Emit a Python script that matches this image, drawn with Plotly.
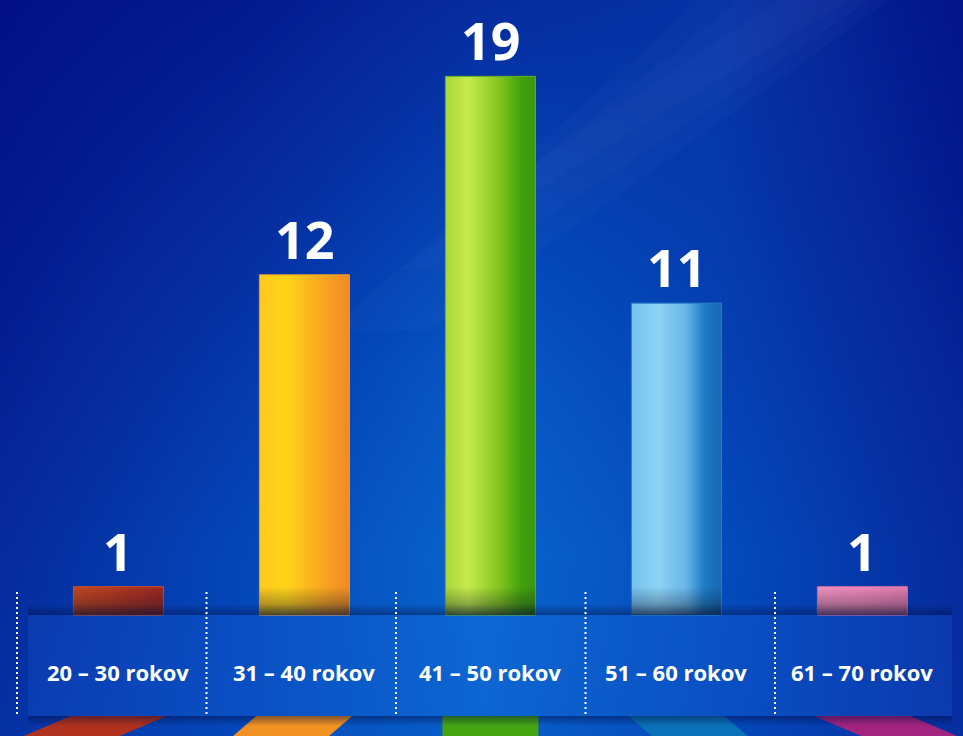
import plotly.graph_objects as go
import numpy as np

# ---------------- data ----------------
categories = ["20 – 30 rokov", "31 – 40 rokov", "41 – 50 rokov", "51 – 60 rokov", "61 – 70 rokov"]
values = [1, 12, 19, 11, 1]
value_labels = ["1", "12", "19", "11", "1"]

# ---------------- styles ----------------
bar_gradients = [
    [[0, "#c4481e"], [0.5, "#b4361f"], [1, "#9c2622"]],
    [[0, "#ffc81e"], [0.3, "#ffd418"], [0.7, "#f8a61f"], [1, "#ee8a24"]],
    [[0, "#a8d63a"], [0.25, "#c6ec4c"], [0.6, "#84c41e"], [0.85, "#40a00c"], [1, "#3a960e"]],
    [[0, "#74c2ee"], [0.3, "#8ed2f4"], [0.6, "#6ab6e8"], [0.82, "#1c7ac6"], [1, "#1868b0"]],
    [[0, "#f292be"], [0.5, "#ee88b8"], [1, "#e27aae"]],
]
bar_edges = ["#c8502a", "#e8a030", "#6ab020", "#2a80c8", "#d070a8"]
strip_colors = ["#b0321e", "#f29222", "#44a412", "#0a72b8", "#a2247e"]

W, H = 963, 736
PX_PER_UNIT = 28.35
BASE_PX = 615.0
X0_PX = 118.4
STEP_PX = 186.0
SEP_X0_PX = 17.0
SEP_STEP_PX = 189.5


def yd(py):
    return (BASE_PX - py) / PX_PER_UNIT


def xd(px):
    return (px - X0_PX) / STEP_PX


xmin, xmax = xd(0), xd(W)
ymin, ymax = yd(H), yd(0)
hw = 45 / STEP_PX

fig = go.Figure()

# background gradient (decoration)
bg_z = [
    [0.38, 0.62, 0.90, 0.62, 0.35],
    [0.30, 0.60, 0.95, 0.66, 0.30],
    [0.18, 0.45, 0.80, 0.55, 0.22],
    [0.08, 0.28, 0.55, 0.46, 0.12],
    [0.00, 0.12, 0.32, 0.40, 0.04],
]
fig.add_trace(go.Heatmap(
    z=bg_z,
    x=np.linspace(xmin, xmax, 5),
    y=np.linspace(ymin, ymax, 5),
    zsmooth="best", showscale=False, hoverinfo="skip",
    zmin=0, zmax=1,
    colorscale=[[0, "#020f86"], [0.3, "#062a9c"], [0.6, "#0446b8"], [1, "#0a6ad0"]],
))

# faint diagonal light streaks
for (pts, op) in [
    ([(700, 0), (890, 0), (430, 330), (330, 330)], 0.025),
    ([(740, 0), (870, 0), (470, 270), (400, 270)], 0.025),
    ([(780, 0), (850, 0), (520, 200), (480, 200)], 0.025),
]:
    xs = [xd(p[0]) for p in pts] + [xd(pts[0][0])]
    ys = [yd(p[1]) for p in pts] + [yd(pts[0][1])]
    fig.add_trace(go.Scatter(x=xs, y=ys, mode="lines", line=dict(width=0),
                             fill="toself", fillcolor=f"rgba(200,230,255,{op})",
                             hoverinfo="skip", showlegend=False))

# label band (lighter)
band_x0, band_x1 = xd(28), xd(952)
fig.add_trace(go.Scatter(
    x=[band_x0, band_x1, band_x1, band_x0, band_x0],
    y=[yd(716), yd(716), 0, 0, yd(716)],
    mode="lines", line=dict(width=0), fill="toself",
    fillcolor="rgba(40,130,255,0.14)", hoverinfo="skip", showlegend=False))

# colored floor strips below band
sw = 48 / STEP_PX
for i, c in enumerate(strip_colors):
    sh = (i - 2) * 28 / STEP_PX
    xs = [i - sw, i + sw, i + sw + sh, i - sw + sh, i - sw]
    ys = [yd(716), yd(716), yd(740), yd(740), yd(716)]
    fig.add_trace(go.Scatter(x=xs, y=ys, mode="lines", line=dict(width=0),
                             fill="toself", fillcolor=c, hoverinfo="skip", showlegend=False))

# shadow below band
fig.add_trace(go.Scatter(
    x=[band_x0, band_x1, band_x1, band_x0, band_x0],
    y=[yd(726), yd(726), yd(716), yd(716), yd(726)],
    mode="lines", line=dict(width=0), fill="toself",
    fillgradient=dict(type="vertical", start=yd(726), stop=yd(716),
                      colorscale=[[0, "rgba(0,10,60,0)"], [1, "rgba(0,10,60,0.45)"]]),
    hoverinfo="skip", showlegend=False))

# bars (gradient filled)
for i, v in enumerate(values):
    fig.add_trace(go.Scatter(
        x=[i - hw, i + hw, i + hw, i - hw, i - hw],
        y=[0, 0, v, v, 0],
        mode="lines", line=dict(width=1, color=bar_edges[i]),
        fill="toself",
        fillgradient=dict(type="horizontal", start=i - hw, stop=i + hw,
                          colorscale=bar_gradients[i]),
        name=categories[i], hoverinfo="skip", showlegend=False))
    s = min(v, 1.0)
    fig.add_trace(go.Scatter(
        x=[i - hw, i + hw, i + hw, i - hw, i - hw],
        y=[0, 0, s, s, 0],
        mode="lines", line=dict(width=0), fill="toself",
        fillgradient=dict(type="vertical", start=0, stop=s,
                          colorscale=[[0, "rgba(10,20,40,0.5)"], [1, "rgba(10,20,40,0)"]]),
        hoverinfo="skip", showlegend=False))

# shadow along the top edge of band
fig.add_trace(go.Scatter(
    x=[band_x0, band_x1, band_x1, band_x0, band_x0],
    y=[0, 0, yd(604), yd(604), 0],
    mode="lines", line=dict(width=0), fill="toself",
    fillgradient=dict(type="vertical", start=0, stop=yd(604),
                      colorscale=[[0, "rgba(0,10,50,0.4)"], [1, "rgba(0,10,50,0)"]]),
    hoverinfo="skip", showlegend=False))

# dotted separators
shapes = []
for i in range(len(categories)):
    px = (SEP_X0_PX + i * SEP_STEP_PX) / W
    shapes.append(dict(type="line", xref="paper", yref="y",
                       x0=px, x1=px, y0=yd(592), y1=yd(716),
                       line=dict(color="white", width=2, dash="2px,3px")))

annotations = []
for i, (v, t) in enumerate(zip(values, value_labels)):
    annotations.append(dict(x=i, y=v, xref="x", yref="y", text=t, showarrow=False,
                            yanchor="bottom", yshift=-1,
                            font=dict(family="Open Sans", size=52, color="white", weight="bold")))
for i, c in enumerate(categories):
    annotations.append(dict(x=i, y=yd(672), xref="x", yref="y", text=c, showarrow=False,
                            yanchor="middle",
                            font=dict(family="Open Sans", size=22, color="white", weight="bold")))

fig.update_layout(
    width=W, height=H, autosize=False,
    margin=dict(l=0, r=0, t=0, b=0, pad=0),
    paper_bgcolor="#0430a0", plot_bgcolor="#0430a0",
    showlegend=False,
    xaxis=dict(range=[xmin, xmax], visible=False, showgrid=False, zeroline=False, fixedrange=True),
    yaxis=dict(range=[ymin, ymax], visible=False, showgrid=False, zeroline=False, fixedrange=True),
    shapes=shapes, annotations=annotations,
)

fig.write_html("out.html")
